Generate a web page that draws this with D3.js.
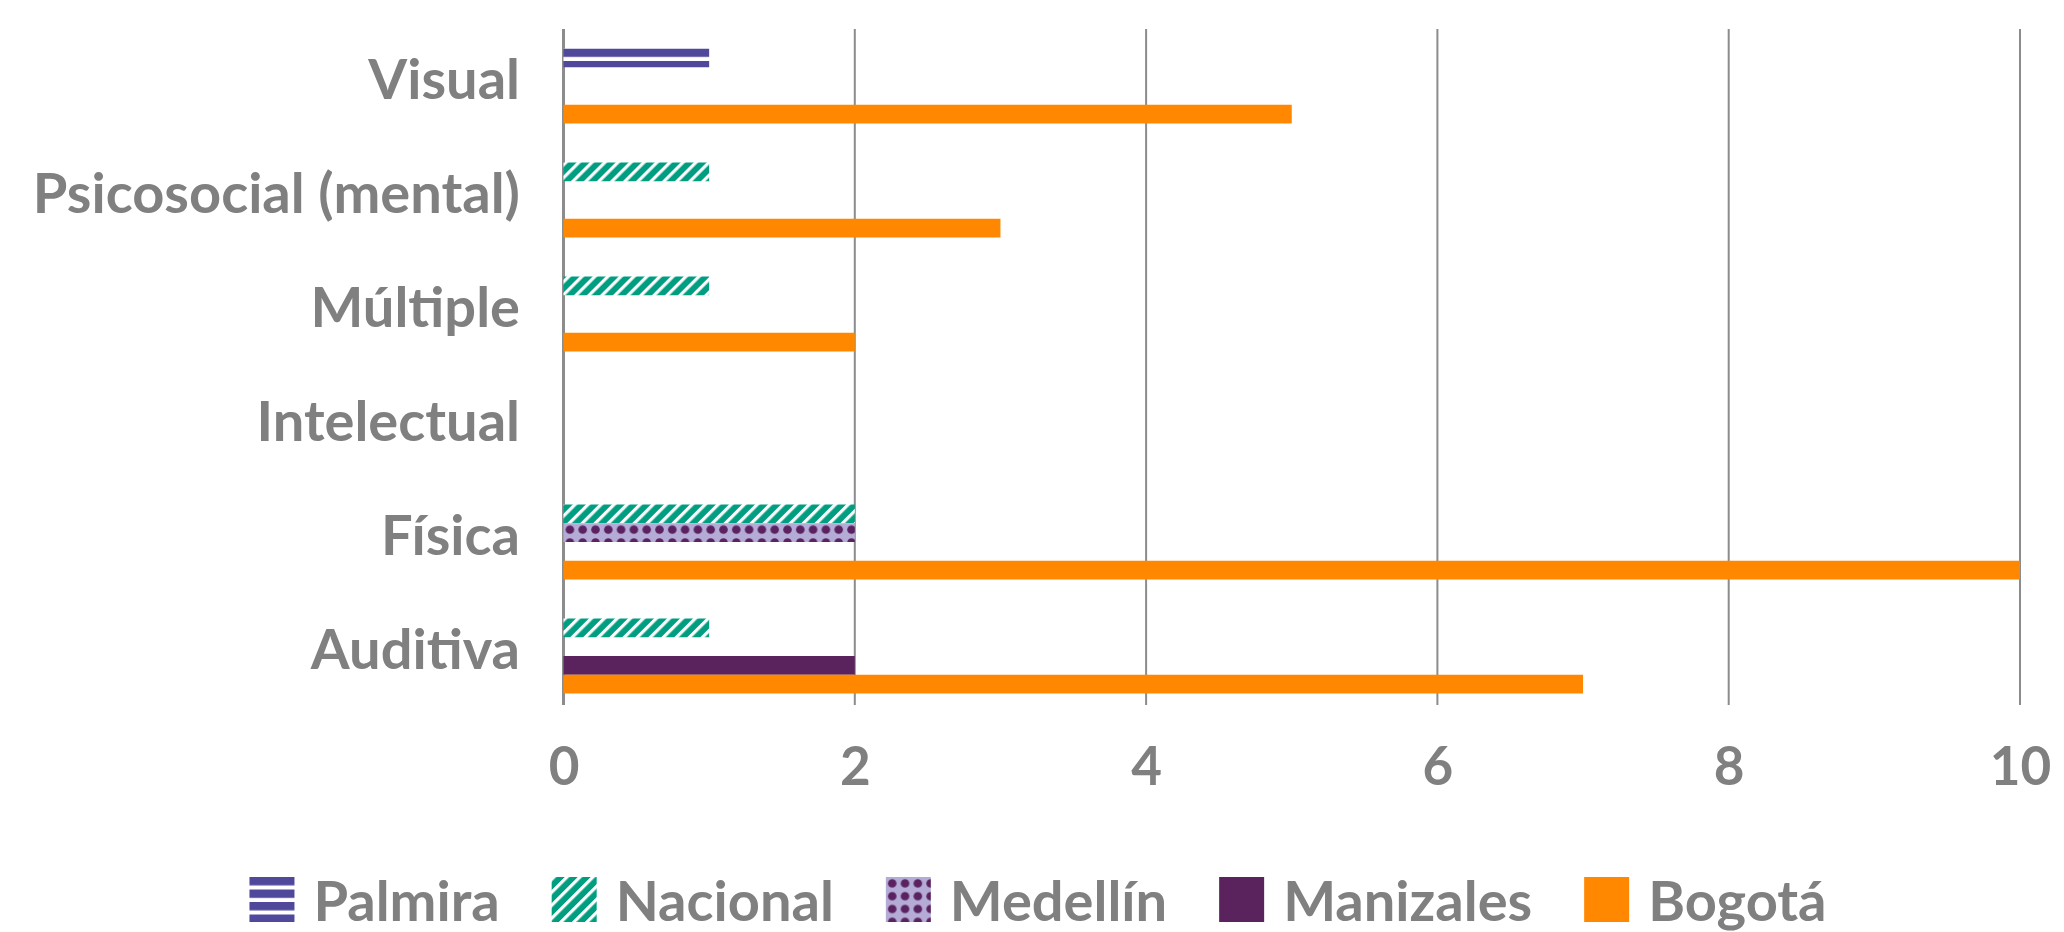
<!DOCTYPE html>
<html>
<head>
<meta charset="utf-8">
<script src="https://cdn.jsdelivr.net/npm/d3@7"></script>
<style>
  html, body { margin: 0; padding: 0; background: #fff; }
  text { font-family: Lato, "Open Sans", sans-serif; font-weight: 700; fill: #808080; }
</style>
</head>
<body>
<div id="chart"></div>
<script>
// categories top to bottom, as drawn
const categories = ["Visual", "Psicosocial (mental)", "Múltiple", "Intelectual", "Física", "Auditiva"];
const seriesNames = ["Palmira", "Nacional", "Medellín", "Manizales", "Bogotá"];

const palmira   = [1, null, null, null, null, null];
const nacional  = [null, 1, 1, null, 2, 1];
const medellin  = [null, null, null, null, 2, null];
const manizales = [null, null, null, null, null, 2];
const bogota    = [5, 3, 2, null, 10, 7];

const xTicks = [0, 2, 4, 6, 8, 10];

const WIDTH = 2064;
const HEIGHT = 932;

const PALMIRA = "#4f489b";
const NACIONAL = "#009e80";
const MEDELLIN_BG = "#b4acd6";
const MEDELLIN_DOT = "#5a2260";
const MANIZALES = "#5a235e";
const BOGOTA = "#ff8800";
const GRID = "#8c8c8c";

const seriesValues = [palmira, nacional, medellin, manizales, bogota];

const margin = { top: 29, left: 563.5 };

const svg = d3.select("#chart")
  .append("svg")
  .attr("width", WIDTH)
  .attr("height", HEIGHT);

const defs = svg.append("defs");

// fill patterns; (ox, oy) is in the local space of the shape using it
const makePattern = (id, name, ox, oy) => {
  if (name === "Palmira") {
    const p = defs.append("pattern")
      .attr("id", id)
      .attr("patternUnits", "userSpaceOnUse")
      .attr("width", 12.5).attr("height", 12.5)
      .attr("patternTransform", "translate(" + ox + "," + oy + ")");
    p.append("rect").attr("width", 12.5).attr("height", 12.5).attr("fill", "#fff");
    p.append("rect").attr("width", 12.5).attr("height", 8.4).attr("fill", PALMIRA);
    return "url(#" + id + ")";
  }
  if (name === "Nacional") {
    const p = defs.append("pattern")
      .attr("id", id)
      .attr("patternUnits", "userSpaceOnUse")
      .attr("width", 9.2).attr("height", 9.2)
      .attr("patternTransform", "translate(" + ox + "," + oy + ") rotate(45)");
    p.append("rect").attr("width", 9.2).attr("height", 9.2).attr("fill", NACIONAL);
    p.append("rect").attr("width", 3.2).attr("height", 9.2).attr("fill", "#fff");
    return "url(#" + id + ")";
  }
  if (name === "Medellín") {
    const p = defs.append("pattern")
      .attr("id", id)
      .attr("patternUnits", "userSpaceOnUse")
      .attr("width", 12.8).attr("height", 12.8)
      .attr("patternTransform", "translate(" + ox + "," + oy + ")");
    p.append("rect").attr("width", 12.8).attr("height", 12.8).attr("fill", MEDELLIN_BG);
    p.append("circle").attr("cx", 6.4).attr("cy", 6.4).attr("r", 4.3).attr("fill", MEDELLIN_DOT);
    return "url(#" + id + ")";
  }
  if (name === "Manizales") return MANIZALES;
  return BOGOTA;
};

const g = svg.append("g")
  .attr("transform", "translate(" + margin.left + "," + margin.top + ")");

const x = d3.scaleLinear()
  .domain([0, 10])
  .range([0, 1456.5]);

const y = d3.scaleBand()
  .domain(categories)
  .range([0, 684]);

// Palmira sits in the same row as Nacional in the original chart
const slotOf = name => name === "Palmira" ? "Nacional" : name;
const ySub = d3.scaleBand()
  .domain(["Nacional", "Medellín", "Manizales", "Bogotá"])
  .range([0, y.bandwidth()])
  .paddingInner(0)
  .paddingOuter(1.04);

// vertical gridlines, they run a bit short of the band bottom
g.append("g")
  .selectAll("line")
  .data(xTicks)
  .enter()
  .append("line")
  .attr("x1", d => x(d))
  .attr("x2", d => x(d))
  .attr("y1", 0)
  .attr("y2", 676)
  .attr("stroke", GRID)
  .attr("stroke-width", d => d === 0 ? 3 : 2);

// bars
seriesNames.forEach((name, si) => {
  const bars = categories
    .map((c, i) => ({ cat: c, value: seriesValues[si][i] }))
    .filter(d => d.value != null);
  if (!bars.length) return;
  const top = y(bars[0].cat) + ySub(slotOf(name));
  const fill = makePattern("bar-" + si, name, 0, top);
  g.append("g")
    .selectAll("rect")
    .data(bars)
    .enter()
    .append("rect")
    .attr("x", x(0))
    .attr("y", d => y(d.cat) + ySub(slotOf(name)))
    .attr("width", d => x(d.value) - x(0))
    .attr("height", ySub.bandwidth())
    .attr("fill", fill);
});

// category labels
const catSize = 56;
g.append("g")
  .selectAll("text")
  .data(categories)
  .enter()
  .append("text")
  .attr("x", 520 - margin.left)
  .attr("y", d => y(d) + y.bandwidth() / 2 + catSize * 0.23)
  .attr("text-anchor", "end")
  .attr("font-size", catSize + "px")
  .text(d => d);

// value axis labels
const xAxis = g.append("g")
  .attr("transform", "translate(0," + 756 + ")")
  .call(d3.axisBottom(x).tickValues(xTicks).tickSize(0).tickPadding(0));
xAxis.select(".domain").remove();
xAxis.selectAll("text")
  .attr("font-size", "53px")
  .attr("dy", 0)
  .attr("y", 0)
  .style("fill", "#808080");

// legend
const legendSize = 56;
const legendGap = 52;
const legend = svg.append("g");
const items = legend.selectAll("g")
  .data(seriesNames)
  .enter()
  .append("g");
items.append("text")
  .attr("x", 64)
  .attr("y", 44)
  .attr("font-size", legendSize + "px")
  .text(d => d);

let xpos = 0;
const positions = [];
items.each(function(d, i) {
  const len = d3.select(this).select("text").node().getComputedTextLength();
  positions.push(xpos);
  xpos += 64 + len + legendGap;
});
const total = xpos - legendGap;
const startX = 1038 - total / 2;
const legendTop = 877;

items.attr("transform", (d, i) => "translate(" + (startX + positions[i]) + "," + legendTop + ")");
items.append("rect")
  .attr("width", 45)
  .attr("height", 45)
  .attr("fill", (d, i) => makePattern("leg-" + i, d, 0, 0));
</script>
</body>
</html>
